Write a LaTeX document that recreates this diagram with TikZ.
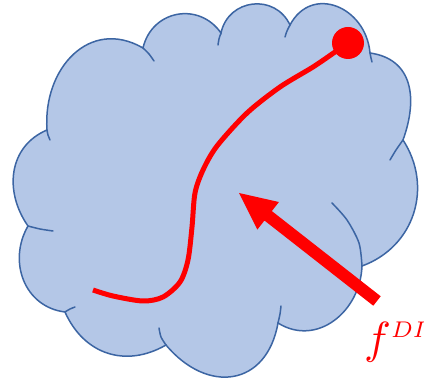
\documentclass[tikz,border=0pt]{standalone}
\usepackage{graphicx}
\usetikzlibrary{calc}
\definecolor{cloudfill}{HTML}{B4C7E7}
\definecolor{cloudline}{HTML}{3C65A3}
\definecolor{pathred}{HTML}{FF0000}
\tikzset{
  cloudshape/.style={fill=cloudfill, draw=cloudline, line width=1.5pt},
  cloudtail/.style={draw=cloudline, line width=1.5pt, line cap=round},
  redpath/.style={draw=pathred, line width=5pt},
  reddot/.style={circle, fill=pathred, minimum size=32pt, inner sep=0pt},
  arrowfill/.style={fill=pathred},
  labeltext/.style={text=pathred, inner sep=0pt, anchor=base west}
}
\begin{document}
\begin{tikzpicture}[x=1pt,y=1pt]
\useasboundingbox (0,0) rectangle (424,383);
\fill[white] (0,0) rectangle (424,383);
% cusps of the cloud
\coordinate (c1) at (47,253);
\coordinate (c11) at (143,335);
\coordinate (c10) at (221,350);
\coordinate (c9) at (290,358);
\coordinate (c8) at (370,330);
\coordinate (c7) at (403,243);
\coordinate (c6) at (362,117);
\coordinate (c5) at (278,60);
\coordinate (c4) at (166,38);
\coordinate (c3) at (65,71);
\coordinate (c2) at (28,157);
\filldraw[cloudshape]
  (c1) to[out=94,in=150,looseness=1.25] (c11)
  to[out=77,in=125,looseness=1.25] (c10)
  to[out=78,in=115,looseness=1.3] (c9)
  to[out=62,in=95,looseness=1.4] (c8)
  to[out=-8,in=70,looseness=1.2] (c7)
  to[out=-57,in=20,looseness=1.08] (c6)
  to[out=-92,in=-32,looseness=1.15] (c5)
  to[out=-100,in=-50,looseness=1.45] (c4)
  to[out=-150,in=-66,looseness=1.12] (c3)
  to[out=173,in=-120,looseness=1.12] (c2)
  to[out=125,in=203,looseness=1.1] (c1) -- cycle;
% inner tails of the cloud
\draw[cloudtail] plot[smooth] coordinates {(c1) (48,248) (50,243)};
\draw[cloudtail] plot[smooth] coordinates {(c2) (40,154) (53,152)};
\draw[cloudtail] plot[smooth] coordinates {(c3) (70,74) (75,76)};
\draw[cloudtail] plot[smooth] coordinates {(c4) (161,46) (159,55)};
\draw[cloudtail] plot[smooth] coordinates {(c5) (280,69) (281,77)};
\draw[cloudtail] plot[smooth] coordinates {(c6) (359,140) (347,163) (332,180)};
\draw[cloudtail] plot[smooth] coordinates {(c7) (396,233) (390,223)};
\draw[cloudtail] plot[smooth] coordinates {(c8) (371,325) (372,321)};
\draw[cloudtail] plot[smooth] coordinates {(c9) (287,352) (285,346)};
\draw[cloudtail] plot[smooth] coordinates {(c10) (219,344) (218,338)};
\draw[cloudtail] plot[smooth] coordinates {(c11) (149,329) (154,322)};
% red path and its end dot
\node[reddot] (dot) at (348,340) {};
\coordinate (start) at (93,93);
\draw[redpath] plot[smooth] coordinates {(start) (113,87) (143,82) (163,86) (180,101) (188,123) (192,156) (195,190) (203,213) (217,237) (247,270) (280,296) (313,316) (335,331) (dot.center)};
% thick arrow
\coordinate (tip) at (239,190);
\coordinate (tail) at (377,82);
\coordinate (hb) at ($(tip)!37pt!(tail)$);
\fill[arrowfill] (tip) -- ($(hb)!17.5pt!90:(tail)$) -- ($(hb)!6pt!90:(tail)$)
  -- ($(tail)!6pt!-90:(tip)$) -- ($(tail)!6pt!90:(tip)$)
  -- ($(hb)!6pt!-90:(tail)$) -- ($(hb)!17.5pt!-90:(tail)$) -- cycle;
% label
\node[labeltext] (lbl) at (364,29) {\scalebox{4.5}{$f^{\scalebox{0.72}{$\scriptstyle DI$}}$}};
\end{tikzpicture}
\end{document}
